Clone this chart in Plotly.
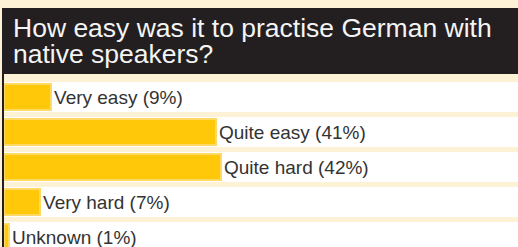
import plotly.graph_objects as go

categories = ["Very easy", "Quite easy", "Quite hard", "Very hard", "Unknown"]
values = [9, 41, 42, 7, 1]
title_lines = ["How easy was it to practise German with", "native speakers?"]
labels = [f"{c} ({v}%)" for c, v in zip(categories, values)]
band_values = [100] * len(categories)

W, H = 518, 247
ML, MR, MT, MB = 4, 0, 74, 0
plot_h = H - MT - MB
plot_w = W - ML - MR
pitch = 35.0
top_units = 23.0 / pitch
span_units = plot_h / pitch

CREAM = "#FEF2D6"
DARK = "#231F20"
FONT = "Liberation Sans, Arial, sans-serif"


def py(px_from_top):
    return 1.0 + (MT - px_from_top) / plot_h


def px(px_from_left):
    return (px_from_left - ML) / plot_w


fig = go.Figure()
fig.add_trace(go.Bar(
    y=categories, x=band_values, orientation="h",
    marker=dict(color="white", line=dict(width=0)),
    width=0.86, hoverinfo="skip", showlegend=False,
))
fig.add_trace(go.Bar(
    y=categories, x=values, orientation="h",
    marker=dict(color="#FFC90A", line=dict(color="#FFD966", width=2)),
    width=0.76,
    text=labels, textposition="outside", cliponaxis=False,
    textfont=dict(family=FONT, size=19, color="#333333"),
    showlegend=False,
))

fig.update_layout(
    width=W, height=H,
    margin=dict(l=ML, r=MR, t=MT, b=MB, pad=0),
    paper_bgcolor=CREAM, plot_bgcolor=CREAM,
    barmode="overlay",
    bargap=0,
    xaxis=dict(range=[0, plot_w / 5.17], visible=False, fixedrange=True),
    yaxis=dict(type="category", categoryarray=categories,
               range=[span_units - top_units, -top_units],
               visible=False, fixedrange=True),
    shapes=[
        dict(type="rect", xref="paper", yref="paper",
             x0=px(2), x1=1.0, y0=py(74), y1=py(8),
             fillcolor=DARK, line=dict(width=0), layer="below"),
        dict(type="line", xref="paper", yref="paper",
             x0=px(3), x1=px(3), y0=py(260), y1=py(74),
             line=dict(color=DARK, width=2)),
    ],
    annotations=[
        dict(text=title_lines[0], xref="paper", yref="paper",
             x=px(11), y=py(28), xanchor="left", yanchor="middle", showarrow=False,
             font=dict(family=FONT, size=26.5, color="#F4F4F4")),
        dict(text=title_lines[1], xref="paper", yref="paper",
             x=px(11), y=py(54), xanchor="left", yanchor="middle", showarrow=False,
             font=dict(family=FONT, size=26.5, color="#F4F4F4")),
    ],
)

fig.write_html("out.html", config={"displayModeBar": False},
               post_script="document.body.style.margin='0';document.body.style.padding='0';")
